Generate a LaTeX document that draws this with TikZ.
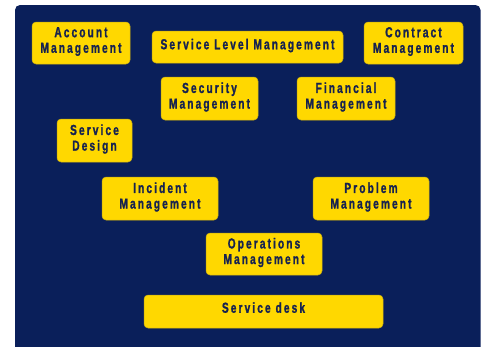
\documentclass[tikz,border=0pt]{standalone}
\usepackage{fontspec}
\newfontfamily\boxfont{Liberation Sans Bold}[FakeStretch=0.7,LetterSpace=14.5,FakeBold=1.2]
\definecolor{panelnavy}{RGB}{10,31,90}
\definecolor{labelnavy}{RGB}{22,34,80}
\definecolor{boxyellow}{RGB}{255,216,0}
\definecolor{boxedge}{RGB}{200,172,20}
\begin{document}
\begin{tikzpicture}[x=1pt,y=-1pt,
  procbox/.style={rectangle, rounded corners=4pt, fill=boxyellow, draw=boxedge,
    line width=0.5pt, inner sep=0pt, align=center, text=labelnavy,
    font={\boxfont\fontsize{14.5}{15.6}\selectfont},
    % deeper last line lifts the lettering slightly above the box centre
    execute at end node={\rule[-6pt]{0pt}{0pt}}}]
\useasboundingbox (0,0) rectangle (485,346);
% dark panel behind the boxes, running off the bottom edge
\begin{scope}
  \clip (0,0) rectangle (485,346);
  \fill[panelnavy, rounded corners=5pt] (15,5) rectangle (480.5,360);
\end{scope}
% process boxes
\node[procbox, minimum width=98pt, minimum height=42pt] (acct) at (81,43) {Account\\Management};
\node[procbox, minimum width=99pt, minimum height=42pt] (contract) at (413.5,43) {Contract\\Management};
\node[procbox, minimum width=191pt, minimum height=32pt] (slm) at (247.5,47) {Service Level Management};
\node[procbox, minimum width=97pt, minimum height=43pt] (security) at (209.5,98.5) {Security\\Management};
\node[procbox, minimum width=98pt, minimum height=43pt] (financial) at (346,98.5) {Financial\\Management};
\node[procbox, minimum width=75pt, minimum height=43pt] (design) at (94.5,140.5) {Service\\Design};
\node[procbox, minimum width=116pt, minimum height=43pt] (incident) at (160,198.5) {Incident\\Management};
\node[procbox, minimum width=116pt, minimum height=43pt] (problem) at (371,198.5) {Problem\\Management};
\node[procbox, minimum width=116pt, minimum height=42pt] (operations) at (264,254) {Operations\\Management};
\node[procbox, minimum width=239pt, minimum height=33pt] (desk) at (263.5,311.5) {Service desk\rule[-8pt]{0pt}{0pt}};
\end{tikzpicture}
\end{document}
